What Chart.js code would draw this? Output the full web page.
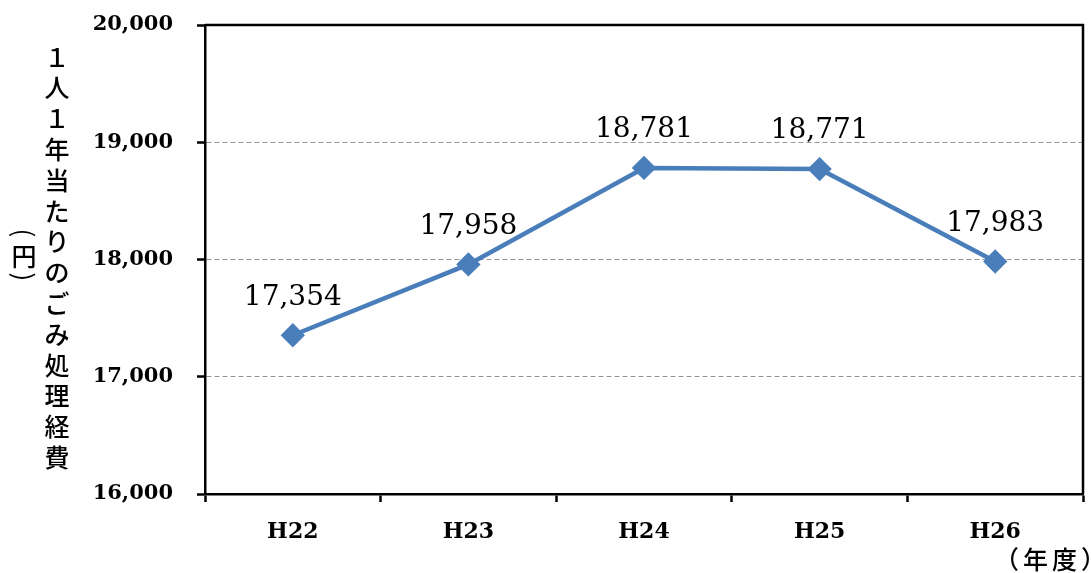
<!DOCTYPE html>
<html>
<head>
<meta charset="utf-8">
<script src="https://cdn.jsdelivr.net/npm/chart.js@4/dist/chart.umd.min.js"></script>
<style>
html,body{margin:0;padding:0;background:#fff;}
#wrap{width:1091px;height:573px;position:relative;}
</style>
</head>
<body>
<div id="wrap"><canvas id="c" width="1091" height="573"></canvas></div>
<script>
const categories = ['H22', 'H23', 'H24', 'H25', 'H26'];
const costValues = [17354, 17958, 18781, 18771, 17983];
const yTicks = [16000, 17000, 18000, 19000, 20000];
const yTitle = '１人１年当たりのごみ処理経費';
const yUnit = ['(', '円', ')'];
const xUnit = '（年度）';

const fmt = v => v.toLocaleString('en-US');

const decor = {
  id: 'decor',
  beforeDatasetsDraw(chart) {
    const {ctx, chartArea: a} = chart;
    ctx.save();
    ctx.strokeStyle = '#000';
    ctx.lineWidth = 2.5;
    ctx.beginPath();
    ctx.moveTo(a.left, a.top);
    ctx.lineTo(a.right, a.top);
    ctx.lineTo(a.right, a.bottom);
    ctx.stroke();
    ctx.restore();
  },
  afterDatasetsDraw(chart) {
    const {ctx} = chart;
    const meta = chart.getDatasetMeta(0);
    ctx.save();
    ctx.fillStyle = '#000';
    ctx.font = '28px "DejaVu Serif"';
    ctx.textAlign = 'center';
    ctx.textBaseline = 'middle';
    meta.data.forEach((pt, i) => {
      ctx.fillText(fmt(costValues[i]), pt.x, pt.y - 38);
    });
    // y title vertical
    ctx.font = '500 25px "Noto Sans CJK JP"';
    Array.from(yTitle).forEach((ch, i) => {
      ctx.fillText(ch, 57, 57 + i * 30.8);
    });
    // unit column (円) with rotated parentheses
    const uy = [233, 256, 277];
    yUnit.forEach((ch, i) => {
      if (ch === '円') {
        ctx.font = '500 25px "Noto Sans CJK JP"';
        ctx.fillText(ch, 24, uy[i]);
      } else {
        ctx.save();
        ctx.font = '26px "Noto Sans CJK JP"';
        ctx.translate(24, uy[i]);
        ctx.rotate(Math.PI / 2);
        ctx.fillText(ch, 0, 0);
        ctx.restore();
      }
    });
    ctx.font = '500 25px "Noto Sans CJK JP"';
    ctx.textAlign = 'left';
    ctx.letterSpacing = '4px';
    ctx.fillText(xUnit, 994, 559);
    ctx.restore();
  }
};

new Chart(document.getElementById('c'), {
  type: 'line',
  data: {
    labels: categories,
    datasets: [{
      data: costValues,
      borderColor: '#4A7EBB',
      backgroundColor: '#4A7EBB',
      borderWidth: 4.5,
      pointStyle: 'rectRot',
      pointRadius: 9,
      pointHoverRadius: 9,
      tension: 0,
      clip: false
    }]
  },
  options: {
    responsive: false,
    animation: false,
    events: [],
    layout: {autoPadding: false, padding: {top: 25, right: 8, left: 0, bottom: 0}},
    plugins: {legend: {display: false}, tooltip: {enabled: false}},
    scales: {
      x: {
        offset: true,
        afterFit: s => { s.height = 79; s.paddingLeft = 0; s.paddingRight = 0; },
        grid: {offset: true, drawOnChartArea: false, tickLength: 8, tickColor: '#000', tickWidth: 2.5},
        border: {color: '#000', width: 2.5},
        ticks: {color: '#000', font: {family: 'DejaVu Serif', size: 22, weight: 'bold'}, padding: 17}
      },
      y: {
        min: 16000,
        max: 20000,
        afterFit: s => { s.width = 205; s.paddingTop = 0; s.paddingBottom = 0; },
        afterBuildTicks: s => { s.ticks = yTicks.map(v => ({value: v})); },
        grid: {
          color: c => (c.tick && (c.tick.value === 16000 || c.tick.value === 20000)) ? 'rgba(0,0,0,0)' : '#999999',
          lineWidth: 1,
          tickLength: 8,
          tickColor: '#000',
          tickWidth: 2.5,
          tickBorderDash: []
        },
        border: {color: '#000', width: 2.5, dash: [5, 3]},
        ticks: {
          color: '#000',
          padding: 24,
          font: {family: 'DejaVu Serif', size: 21, weight: 'bold'},
          callback: v => fmt(v)
        }
      }
    }
  },
  plugins: [decor]
});
</script>
</body>
</html>
